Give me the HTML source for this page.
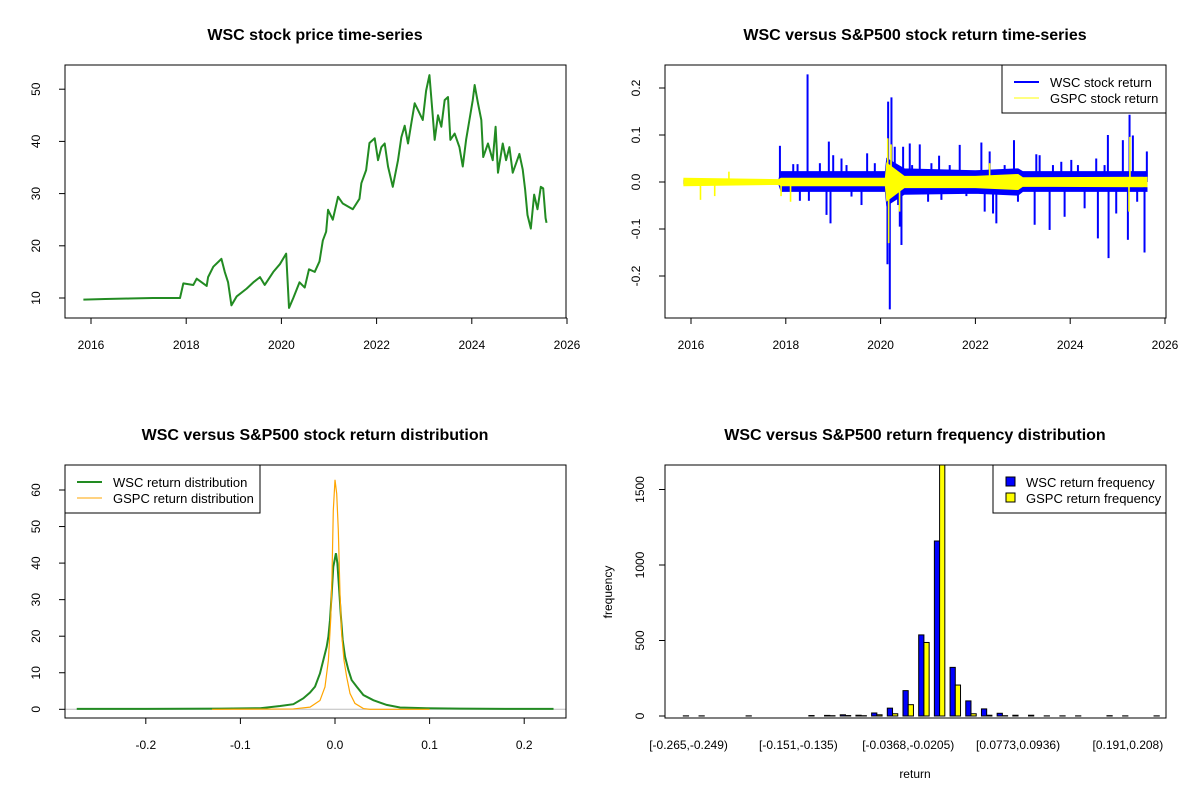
<!DOCTYPE html>
<html><head><meta charset="utf-8"><style>
html,body{margin:0;padding:0;background:#fff;}
svg{display:block;font-family:"Liberation Sans",Arial,sans-serif;}
</style></head><body>
<svg id="chart" width="1200" height="800" viewBox="0 0 1200 800" xmlns="http://www.w3.org/2000/svg">
<defs>
<clipPath id="c1"><rect x="65" y="65" width="501" height="253"/></clipPath>
<clipPath id="c2"><rect x="665" y="65" width="501" height="253"/></clipPath>
<clipPath id="c3"><rect x="65" y="465" width="501" height="253"/></clipPath>
<clipPath id="c4"><rect x="665" y="465" width="501" height="253"/></clipPath>
</defs>
<rect x="0" y="0" width="1200" height="800" fill="#fff"/>
<g font-weight="bold" font-size="16" text-anchor="middle" fill="#000">
<text x="315" y="40">WSC stock price time-series</text>
<text x="915" y="40">WSC versus S&amp;P500 stock return time-series</text>
<text x="315" y="440">WSC versus S&amp;P500 stock return distribution</text>
<text x="915" y="440">WSC versus S&amp;P500 return frequency distribution</text>
</g>
<g font-size="12" fill="#000">
<text x="612" y="592" text-anchor="middle" transform="rotate(-90 612 592)">frequency</text>
<text x="915" y="778" text-anchor="middle">return</text>
</g>
<g id="p1"></g>
<g id="p2"></g>
<g id="p3"></g>
<g id="p4"></g>
</svg>
<script>
// ---- Panel 1: price ----
const priceDates = [2015.84,2016.3,2016.8,2017.3,2017.87,2017.94,2018.15,2018.22,2018.43,2018.46,2018.57,2018.74,2018.81,2018.88,2018.95,2019.06,2019.27,2019.41,2019.55,2019.65,2019.83,2019.97,2020.10,2020.16,2020.25,2020.38,2020.49,2020.58,2020.70,2020.80,2020.87,2020.94,2020.98,2021.00,2021.08,2021.19,2021.29,2021.50,2021.64,2021.68,2021.78,2021.85,2021.96,2022.03,2022.10,2022.17,2022.24,2022.34,2022.45,2022.52,2022.59,2022.66,2022.73,2022.80,2022.87,2022.97,2023.04,2023.11,2023.17,2023.22,2023.29,2023.36,2023.43,2023.50,2023.55,2023.64,2023.74,2023.81,2023.88,2023.95,2024.02,2024.06,2024.13,2024.20,2024.24,2024.34,2024.44,2024.50,2024.55,2024.65,2024.72,2024.79,2024.86,2025.00,2025.07,2025.12,2025.17,2025.24,2025.31,2025.38,2025.45,2025.50,2025.55,2025.57];
const priceValues = [9.7,9.8,9.9,10.0,10.0,12.8,12.5,13.7,12.3,14,16,17.5,15,13,8.6,10.3,11.8,13,14,12.5,15,16.5,18.5,8.1,10,13,12,15.5,15,17,21,22.7,26.9,26.5,25,29.4,28.1,27,29,32,34.5,39.7,40.6,36.4,38.9,39.6,35.2,31.3,36.4,40.8,43,39.6,43.5,47.3,46,44.1,49.7,52.7,46,40.3,45,42.8,47.9,48.5,40.3,41.5,38.9,35.2,40.3,44.1,47.9,50.8,47.3,44.1,37,39.6,36.4,42.8,34,39.6,36.4,38.9,34,37.6,34.6,30.8,25.9,23.3,29.8,27,31.3,31,25.3,24.4];
const priceYTicks = [10,20,30,40,50];
const yearTicks = [2016,2018,2020,2022,2024,2026];
// ---- Panel 2: returns ----
const envDates = [2015.85,2017.85,2017.9,2020.1,2020.13,2020.5,2022.0,2022.9,2023.0,2025.62];
const wscEnvUp = [0.004,0.004,0.022,0.022,0.05,0.028,0.024,0.028,0.022,0.022];
const wscEnvDn = [-0.004,-0.004,-0.02,-0.02,-0.05,-0.026,-0.024,-0.028,-0.02,-0.02];
const gspcEnvUp = [0.008,0.005,0.008,0.008,0.04,0.012,0.012,0.016,0.009,0.01];
const gspcEnvDn = [-0.008,-0.005,-0.008,-0.008,-0.04,-0.012,-0.012,-0.016,-0.009,-0.01];
const wscSpikeDates = [2017.876,2017.911,2018.157,2018.248,2018.297,2018.459,2018.487,2018.719,2018.859,2018.908,2018.943,2019.0,2019.175,2019.281,2019.386,2019.597,2019.716,2019.878,2019.983,2020.145,2020.159,2020.194,2020.229,2020.299,2020.37,2020.405,2020.44,2020.475,2020.615,2020.665,2020.826,2021.002,2021.072,2021.234,2021.283,2021.458,2021.669,2021.81,2021.985,2022.126,2022.196,2022.301,2022.372,2022.442,2022.617,2022.814,2022.898,2023.25,2023.285,2023.355,2023.566,2023.636,2023.812,2023.882,2024.023,2024.163,2024.304,2024.549,2024.584,2024.725,2024.795,2024.809,2024.971,2025.111,2025.217,2025.252,2025.322,2025.413,2025.568,2025.617];
const wscSpikeValues = [0.077,-0.013,0.038,0.038,-0.04,0.229,-0.04,0.04,-0.07,0.086,-0.088,0.057,0.05,0.036,-0.031,-0.049,0.061,0.04,-0.02,-0.175,0.171,-0.271,0.18,0.075,-0.049,-0.095,-0.134,0.075,0.082,0.036,0.08,-0.042,0.04,0.056,-0.038,0.036,0.079,-0.03,-0.024,0.084,-0.063,0.065,-0.067,-0.088,0.036,0.089,-0.042,-0.091,0.059,0.057,-0.102,0.036,0.043,-0.074,0.047,0.036,-0.056,0.05,-0.12,0.036,0.1,-0.162,-0.067,0.089,-0.123,0.143,0.099,-0.042,-0.15,0.065];
const gspcSpikeDates = [2016.2,2016.5,2016.8,2017.9,2018.1,2020.15,2020.17,2020.22,2020.4,2022.3,2025.24,2025.26];
const gspcSpikeValues = [-0.038,-0.03,0.022,-0.03,-0.042,0.093,-0.13,0.08,-0.063,0.04,-0.063,0.096];
const returnYTicks = [-0.2,-0.1,0.0,0.1,0.2];
// ---- Panel 3: density ----
const wscDensX = [-0.273,-0.2,-0.12,-0.079,-0.058,-0.044,-0.0335,-0.0264,-0.0211,-0.0159,-0.0123,-0.0088,-0.007,-0.0053,-0.0035,-0.0018,0.001,0.0025,0.0042,0.006,0.0081,0.0106,0.0141,0.0176,0.0229,0.03,0.0405,0.0546,0.0687,0.097,0.132,0.18,0.231];
const wscDensY = [0.1,0.1,0.2,0.3,0.9,1.4,3.0,4.6,6.2,9.8,13.5,17.1,19.9,24.4,31.7,39,42.7,40,33.5,26.3,19,14.4,10.8,8.0,6.2,3.9,2.5,1.2,0.5,0.3,0.2,0.1,0.1];
const gspcDensX = [-0.13,-0.044,-0.0264,-0.0159,-0.0106,-0.007,-0.0046,-0.0032,-0.0018,0.0,0.0018,0.0035,0.0053,0.007,0.0095,0.0123,0.0159,0.0211,0.03,0.037,0.1];
const gspcDensY = [0,0.1,0.6,2.4,6.1,13.4,24.3,36.2,54.4,62.8,59,49,31.6,20.7,13.4,8.9,4.3,1.6,0.2,0,0];
const densXTicks = [-0.2,-0.1,0.0,0.1,0.2];
const densYTicks = [0,10,20,30,40,50,60];
// ---- Panel 4: histogram ----
const wscFreq = [1,1,0,0,1,0,0,0,3,4,8,5,20,52,168,537,1159,322,100,47,18,5,5,1,1,1,0,2,1,0,1];
const gspcFreq = [0,0,0,0,0,0,0,0,0,2,3,2,8,15,75,487,1700,205,15,5,2,0,0,0,0,0,0,0,0,0,0];
const shownBinIndex = [0,7,14,21,28];
const shownBinLabels = ["[-0.265,-0.249)","[-0.151,-0.135)","[-0.0368,-0.0205)","[0.0773,0.0936)","[0.191,0.208)"];
const freqYTicks = [0,500,1000,1500];

const NS = "http://www.w3.org/2000/svg";
function mk(tag, attrs, parent){ const e=document.createElementNS(NS,tag); for(const k in attrs) e.setAttribute(k,attrs[k]); parent.appendChild(e); return e; }
function fmt(v){ return (Math.round(v*1000)/1000).toString(); }

function box(g,x,y,w,h,name){ const r=mk('rect',{x:x,y:y,width:w,height:h,fill:'none',stroke:'#000','stroke-width':1},g);
 
  }
function yAxis(g,ticks,sy,xLeft,labelX,fmtf,name){
 const ax=mk('g',{},g);
 
 
 const ys=ticks.map(sy);
 mk('line',{x1:xLeft,x2:xLeft,y1:Math.min(...ys),y2:Math.max(...ys),stroke:'#000'},ax);
 ticks.forEach(t=>{ const y=sy(t);
  mk('line',{x1:xLeft-6,x2:xLeft,y1:y,y2:y,stroke:'#000'},ax);
  const tx=mk('text',{x:labelX,y:y,'font-size':12,'text-anchor':'middle',transform:'rotate(-90 '+labelX+' '+y+')'},ax);
  tx.textContent=fmtf(t);
  
   });
}
function xAxis(g,ticks,sx,yBot,fmtf,name){
 const ax=mk('g',{},g);
 
 
 const xs=ticks.map(sx);
 mk('line',{x1:Math.min(...xs),x2:Math.max(...xs),y1:yBot,y2:yBot,stroke:'#000'},ax);
 ticks.forEach(t=>{ const x=sx(t);
  mk('line',{x1:x,x2:x,y1:yBot,y2:yBot+6,stroke:'#000'},ax);
  const tx=mk('text',{x:x,y:yBot+31,'font-size':12,'text-anchor':'middle'},ax);
  tx.textContent=fmtf(t);
  
   });
}
function pts(xs,ys,sx,sy){ return xs.map((x,i)=>sx(x).toFixed(2)+','+sy(ys[i]).toFixed(2)).join(' '); }

// Panel 1
(function(){
 const g=document.getElementById('p1');
 const sx=y=>91+(y-2016)*47.6, sy=v=>298-(v-10)*5.22;
 const pl=mk('polyline',{points:pts(priceDates,priceValues,sx,sy),fill:'none',stroke:'#228B22','stroke-width':2,'stroke-linejoin':'round','clip-path':'url(#c1)'},g);
 
 
 box(g,65,65,501,253,'price-plot-box');
 yAxis(g,priceYTicks,sy,65,40,t=>t,'price-y-axis');
 xAxis(g,yearTicks,sx,318,t=>t,'price-x-axis');
})();

// Panel 2
(function(){
 const g=document.getElementById('p2');
 const sx=y=>691+(y-2016)*47.4, sy=r=>182-r*470;
 const c=mk('g',{'clip-path':'url(#c2)'},g);
 const wUp=pts(envDates,wscEnvUp,sx,sy), wDn=pts(envDates.slice().reverse(),wscEnvDn.slice().reverse(),sx,sy);
 const we=mk('polygon',{points:wUp+' '+wDn,fill:'#0000FF',stroke:'#0000FF','stroke-width':1},c);
 
 
 wscSpikeDates.forEach((d,i)=>{ const l=mk('line',{x1:sx(d),x2:sx(d),y1:sy(0),y2:sy(wscSpikeValues[i]),stroke:'#0000FF','stroke-width':2},c);
  
   });
 const gUp=pts(envDates,gspcEnvUp,sx,sy), gDn=pts(envDates.slice().reverse(),gspcEnvDn.slice().reverse(),sx,sy);
 const ge=mk('polygon',{points:gUp+' '+gDn,fill:'#FFFF00',stroke:'#FFFF00','stroke-width':1},c);
 
 
 gspcSpikeDates.forEach((d,i)=>{ const l=mk('line',{x1:sx(d),x2:sx(d),y1:sy(0),y2:sy(gspcSpikeValues[i]),stroke:'#FFFF00','stroke-width':1.6},c);
  
   });
 box(g,665,65,501,253,'return-plot-box');
 yAxis(g,returnYTicks,sy,665,640,t=>t===0?'0.0':fmt(t),'return-y-axis');
 xAxis(g,yearTicks,sx,318,t=>t,'return-x-axis');
 const lg=mk('g',{},g);
 
 
 mk('rect',{x:1002,y:65,width:164,height:48,fill:'#fff',stroke:'#000'},lg);
 mk('line',{x1:1014,x2:1039,y1:82,y2:82,stroke:'#0000FF','stroke-width':2},lg);
 mk('line',{x1:1014,x2:1039,y1:98,y2:98,stroke:'#FFFF00','stroke-width':1},lg);
 const t1=mk('text',{x:1050,y:87,'font-size':13},lg); t1.textContent='WSC stock return';
 
 
 const t2=mk('text',{x:1050,y:103,'font-size':13},lg); t2.textContent='GSPC stock return';
 
 
})();

// Panel 3
(function(){
 const g=document.getElementById('p3');
 const sx=r=>335+r*946, sy=v=>709.3-v*3.655;
 const c=mk('g',{'clip-path':'url(#c3)'},g);
 mk('line',{x1:65,x2:566,y1:sy(0),y2:sy(0),stroke:'#BEBEBE','stroke-width':1},c);
 const gl=mk('polyline',{points:pts(wscDensX,wscDensY,sx,sy),fill:'none',stroke:'#228B22','stroke-width':2},c);
 
 
 const ol=mk('polyline',{points:pts(gspcDensX,gspcDensY,sx,sy),fill:'none',stroke:'#FFA500','stroke-width':1.2},c);
 
 
 box(g,65,465,501,253,'density-plot-box');
 yAxis(g,densYTicks,sy,65,40,t=>t,'density-y-axis');
 xAxis(g,densXTicks,sx,718,t=>t===0?'0.0':fmt(t),'density-x-axis');
 const lg=mk('g',{},g);
 
 
 mk('rect',{x:65,y:465,width:195,height:48,fill:'#fff',stroke:'#000'},lg);
 mk('line',{x1:77,x2:102,y1:482,y2:482,stroke:'#228B22','stroke-width':2},lg);
 mk('line',{x1:77,x2:102,y1:498,y2:498,stroke:'#FFA500','stroke-width':1},lg);
 const t1=mk('text',{x:113,y:487,'font-size':13},lg); t1.textContent='WSC return distribution';
 
 
 const t2=mk('text',{x:113,y:503,'font-size':13},lg); t2.textContent='GSPC return distribution';
 
 
})();

// Panel 4
(function(){
 const g=document.getElementById('p4');
 const w=5.23, x0=678.1;
 const sy=n=>716-n*0.151;
 const c=mk('g',{'clip-path':'url(#c4)'},g);
 wscFreq.forEach((n,i)=>{ const x=x0+w*(1+3*i);
  const b=mk('rect',{x:x,y:sy(n),width:w,height:Math.max(0,716-sy(n)),fill:'#0000FF',stroke:'#000','stroke-width':1},c);
  
  
  const n2=gspcFreq[i];
  const b2=mk('rect',{x:x+w,y:sy(n2),width:w,height:Math.max(0,716-sy(n2)),fill:'#FFFF00',stroke:'#000','stroke-width':1},c);
  
   });
 box(g,665,465,501,253,'histogram-plot-box');
 yAxis(g,freqYTicks,sy,665,644,t=>t,'frequency-y-axis');
 shownBinIndex.forEach((idx,k)=>{ const cx=x0+w*(1+3*idx)+w;
  const t=mk('text',{x:cx,y:749,'font-size':12,'text-anchor':'middle'},g);
  t.textContent=shownBinLabels[k];
  
   });
 const lg=mk('g',{},g);
 
 
 mk('rect',{x:993,y:465,width:173,height:48,fill:'#fff',stroke:'#000'},lg);
 mk('rect',{x:1006,y:477,width:9,height:9,fill:'#0000FF',stroke:'#000'},lg);
 mk('rect',{x:1006,y:493,width:9,height:9,fill:'#FFFF00',stroke:'#000'},lg);
 const t1=mk('text',{x:1026,y:487,'font-size':13},lg); t1.textContent='WSC return frequency';
 
 
 const t2=mk('text',{x:1026,y:503,'font-size':13},lg); t2.textContent='GSPC return frequency';
 
 
})();
</script>
</body></html>
